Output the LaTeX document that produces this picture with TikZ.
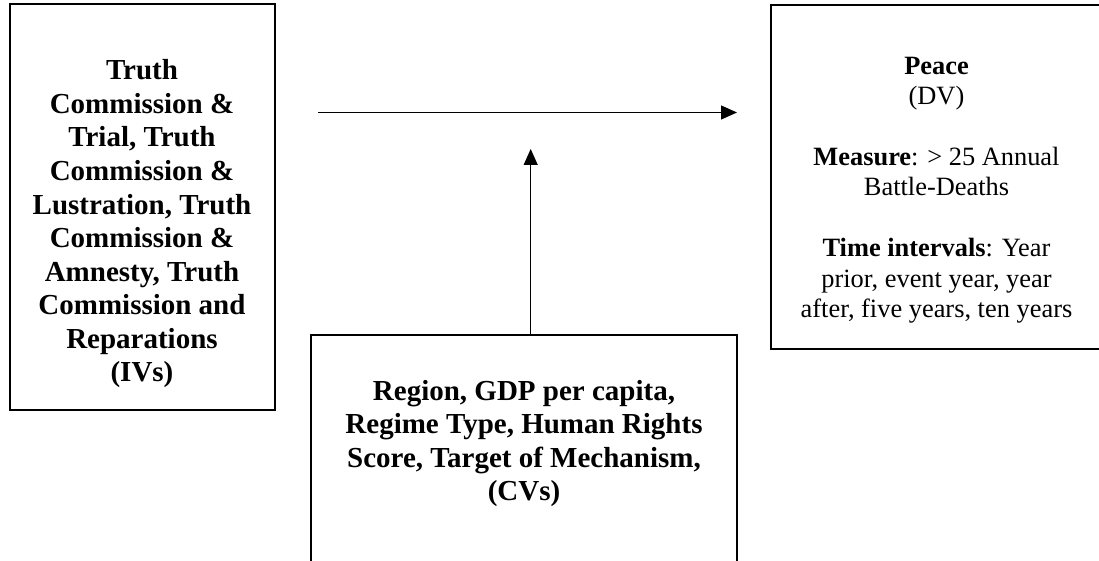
\documentclass[tikz,border=0pt]{standalone}
\usepackage{fontspec}
\setmainfont{Liberation Serif}
\usetikzlibrary{arrows.meta}

\begin{document}
\begin{tikzpicture}[x=0.5pt, y=-0.5pt,
	box/.style={draw, line width=1pt, inner sep=0pt},
	bigtext/.style={align=center, inner sep=0pt, anchor=base, font=\fontsize{14.5pt}{16.8pt}\selectfont\bfseries},
	smalltext/.style={align=center, inner sep=0pt, anchor=base, font=\fontsize{13.2pt}{15.25pt}\selectfont},
	link/.style={line width=0.6pt, -{Triangle[length=8pt, width=7pt]}}]
	\clip (0,0) rectangle (1099,561);

	\node [box, minimum width=132.75pt, minimum height=202.75pt] (iv) at (142.25,207.25) {};
	\node [box, minimum width=165.65pt, minimum height=172pt] (dv) at (936.35,177) {};
	\node [box, minimum width=213pt, minimum height=132.5pt] (cv) at (524,467.5) {};

	\node [bigtext] (ivtext) at (142,382) {Truth\\ Commission \&\\ Trial, Truth\\ Commission \&\\ Lustration, Truth\\ Commission \&\\ Amnesty, Truth\\ Commission and\\ Reparations\\ (IVs)};
	\node [smalltext] (dvtext) at (936.5,318) {\textbf{Peace}\\ (DV)\\[15.25pt] \textbf{Measure}: > 25 Annual\\ Battle-Deaths\\[15.25pt] \textbf{Time intervals}: Year\\ prior, event year, year\\ after, five years, ten years};
	\node [bigtext] (cvtext) at (524,501) {Region, GDP per capita,\\ Regime Type, Human Rights\\ Score, Target of Mechanism,\\ (CVs)};

	\coordinate (hstart) at (318,112.5);
	\coordinate (hend) at (737,112.5);
	\coordinate (vtip) at (530.7,149);
	\draw [link] (hstart) -- (hend);
	\draw [link] (vtip |- cv.north) -- (vtip);
\end{tikzpicture}
\end{document}
